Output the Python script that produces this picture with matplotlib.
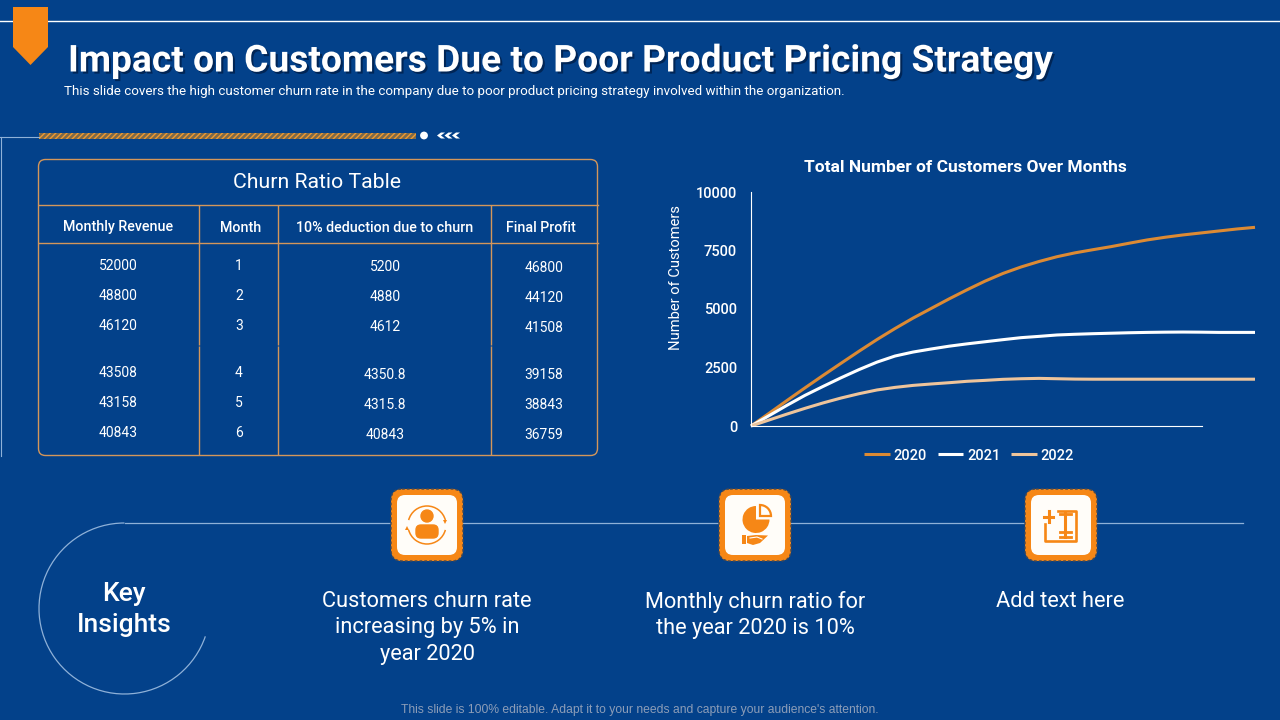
import matplotlib
matplotlib.use("Agg")
import matplotlib.pyplot as plt
import matplotlib.patheffects as pe
from matplotlib.patches import Arc, Circle, FancyBboxPatch, Polygon, Rectangle, Wedge

plt.rcParams['font.family'] = ['Roboto', 'DejaVu Sans']

BG = '#03418a'
ORANGE = '#f68716'
TAN = '#d4965a'
PALE = '#8fb1d8'

# table data
revenue = ['52000', '48800', '46120', '43508', '43158', '40843']
months = ['1', '2', '3', '4', '5', '6']
deduction = ['5200', '4880', '4612', '4350.8', '4315.8', '40843']
profit = ['46800', '44120', '41508', '39158', '38843', '36759']
headers = ['Monthly Revenue', 'Month', '10% deduction due to churn', 'Final Profit']

# chart data
steps = list(range(29))
cust_2020 = [0, 540, 1090, 1630, 2160, 2680, 3195, 3695, 4165, 4610, 5020, 5430, 5820, 6190, 6520,
             6795, 7030, 7235, 7400, 7535, 7665, 7810, 7950, 8065, 8165, 8250, 8335, 8420, 8490]
cust_2021 = [0, 440, 885, 1310, 1690, 2060, 2410, 2730, 2990, 3160, 3290, 3410, 3510, 3600, 3690,
             3775, 3830, 3890, 3920, 3945, 3965, 3985, 4000, 4010, 4015, 4010, 4000, 4000, 4000]
cust_2022 = [0, 255, 510, 755, 985, 1195, 1380, 1540, 1650, 1735, 1795, 1850, 1910, 1950, 1995,
             2020, 2035, 2020, 2005, 2000, 2000, 2000, 2000, 2000, 2000, 2000, 2000, 2000, 2000]
y_ticks = [0, 2500, 5000, 7500, 10000]

insights = ['Customers churn rate\nincreasing by 5% in\nyear 2020',
            'Monthly churn ratio for\nthe year 2020 is 10%',
            'Add text here']

fig = plt.figure(figsize=(12.8, 7.2), dpi=100, facecolor=BG)

# whole slide axes in pixels
bg = fig.add_axes([0, 0, 1, 1])
bg.set_xlim(0, 1280)
bg.set_ylim(720, 0)
bg.axis('off')

# header
bg.plot([0, 1280], [21, 21], color='white', lw=1)
bg.add_patch(Polygon([(13, 7), (48, 7), (48, 47), (30.5, 65), (13, 47)], facecolor=ORANGE, lw=0, zorder=3))
bg.text(68, 61.5, 'Impact on Customers Due to Poor Product Pricing Strategy', color='white', fontsize=26.75,
        fontweight='bold', va='center', ha='left',
        path_effects=[pe.withSimplePatchShadow(offset=(1.5, -1.5), shadow_rgbFace='#001a40', alpha=0.7)])
bg.text(64, 91.5, 'This slide covers the high customer churn rate in the company due to poor product pricing '
        'strategy involved within the organization.', color='white', fontsize=9.65, va='center', ha='left')

# divider above the table
bg.plot([0, 39], [136.5, 136.5], color=PALE, lw=0.8)
bg.plot([0.5, 0.5], [136.5, 456], color=PALE, lw=0.8)
plt.rcParams['hatch.linewidth'] = 1.0
bg.add_patch(Rectangle((39, 133), 377, 6, facecolor='#7d6a4a', edgecolor='#f09a30', hatch='//////', lw=0))
bg.add_patch(Circle((424, 135.5), 3.2, color='white'))
for x0 in (437, 444.5, 452):
    bg.add_patch(Polygon([(x0, 135.5), (x0 + 4, 132.5), (x0 + 8, 132.5), (x0 + 4, 135.5),
                          (x0 + 8, 138.5), (x0 + 4, 138.5)], facecolor='white', lw=0))

# table frame
bg.add_patch(FancyBboxPatch((38.5, 159.5), 559, 296, boxstyle='round,pad=0,rounding_size=7',
                            facecolor='none', edgecolor=TAN, lw=1))
for y in (204.5, 242.5):
    bg.plot([38.5, 597.5], [y, y], color=TAN, lw=1)
for x in (198.5, 277.5, 490.5):
    bg.plot([x, x], [205, 345], color=TAN, lw=1, solid_capstyle='butt')
    bg.plot([x, x], [346, 455], color=TAN, lw=1, solid_capstyle='butt')

bg.text(317, 183, 'Churn Ratio Table', color='white', fontsize=15.3, ha='center', va='center')
head_x = [118, 241, 385, 541]
for x, label in zip(head_x, headers):
    bg.text(x, 227.5, label, color='white', fontsize=10.3, fontweight='medium', ha='center', va='center')

rows_a = [266, 296, 326, 373, 403, 433]
rows_b = [267, 297, 327, 375, 405, 435]
rows_c = [268, 298, 328, 375, 405, 435]
for i in range(6):
    bg.text(118, rows_a[i], revenue[i], color='white', fontsize=10, ha='center', va='center')
    bg.text(239, rows_a[i], months[i], color='white', fontsize=10, ha='center', va='center')
    bg.text(385, rows_b[i], deduction[i], color='white', fontsize=10, ha='center', va='center')
    bg.text(544, rows_c[i], profit[i], color='white', fontsize=10, ha='center', va='center')

# key insights band
bg.plot([124.5, 1243], [523, 523], color=PALE, lw=0.9)
bg.add_patch(Arc((124.5, 608.5), 171, 171, theta1=19, theta2=270, color=PALE, lw=0.9))
bg.text(124, 593.5, 'Key', color='white', fontsize=19, fontweight='medium', ha='center', va='center')
bg.text(124, 625, 'Insights', color='white', fontsize=19, fontweight='medium', ha='center', va='center')


def icon_tile(cx, cy):
    bg.add_patch(FancyBboxPatch((cx - 36, cy - 36), 72, 72, boxstyle='round,pad=0,rounding_size=11',
                                facecolor=ORANGE, edgecolor='#4a4a50', lw=1, ls=(0, (2, 1.5)), zorder=3))
    bg.add_patch(FancyBboxPatch((cx - 30, cy - 30), 60, 60, boxstyle='round,pad=0,rounding_size=8',
                                facecolor='#fffdf9', edgecolor='none', zorder=4))


# person icon
icon_tile(427, 525)
bg.add_patch(Circle((427, 516), 6, color=ORANGE, zorder=5))
bg.add_patch(FancyBboxPatch((416, 525), 22, 13, boxstyle='round,pad=0,rounding_size=5', color=ORANGE, zorder=5))
bg.add_patch(Arc((427, 525), 38, 38, theta1=195, theta2=345, color=ORANGE, lw=1.1, zorder=5))
bg.add_patch(Arc((427, 525), 38, 38, theta1=15, theta2=165, color=ORANGE, lw=1.1, zorder=5))
bg.add_patch(Polygon([(443, 520), (447, 520), (445, 524)], facecolor=ORANGE, lw=0, zorder=5))
bg.add_patch(Polygon([(405, 530), (409, 530), (407, 526)], facecolor=ORANGE, lw=0, zorder=5))

# pie and hand icon
icon_tile(755, 525)
bg.add_patch(Wedge((756, 519.5), 13.5, 0, 270, facecolor=ORANGE, lw=0, zorder=5))
bg.add_patch(Wedge((760, 516), 11, 270, 360, facecolor='none', edgecolor=ORANGE, lw=1.6, zorder=5))
bg.add_patch(Rectangle((742, 535), 4, 9, facecolor=ORANGE, lw=0, zorder=5))
bg.add_patch(Polygon([(747, 536), (756, 535), (768, 535.5), (760, 543), (753, 545), (747, 543)],
                     facecolor=ORANGE, lw=0, zorder=5))
bg.plot([750, 757, 762], [538, 537, 539], color='white', lw=0.8, zorder=6)

# resize icon
icon_tile(1061, 525)
bg.plot([1045, 1045, 1075.5, 1075.5, 1058], [524, 541, 541, 510.5, 510.5], color=ORANGE, lw=1.9, zorder=5)
bg.plot([1044, 1053], [517, 517], color=ORANGE, lw=2.2, zorder=5)
bg.plot([1048.5, 1048.5], [511, 522], color=ORANGE, lw=2.2, zorder=5)
bg.plot([1064.5, 1064.5], [513, 537], color=ORANGE, lw=2.2, zorder=5)
bg.plot([1060, 1071], [514, 514], color=ORANGE, lw=2, zorder=5)
bg.plot([1060, 1071], [532, 532], color=ORANGE, lw=2, zorder=5)
bg.plot([1060, 1071], [537, 537], color=ORANGE, lw=2, zorder=5)

text_x = [427, 755, 1060]
for x, label in zip(text_x, insights):
    bg.text(x, 591, label, color='white', fontsize=15.7, ha='center', va='top', linespacing=1.33)

bg.text(640, 710.5, "This slide is 100% editable. Adapt it to your needs and capture your audience's attention.",
        color='#8c9db8', fontsize=8.7, family='Liberation Sans', ha='center', va='center')

# line chart
ax = fig.add_axes([751 / 1280, 1 - 426 / 720, 451 / 1280, 234 / 720])
ax.patch.set_alpha(0)
ax.plot(steps, cust_2020, color='#dc8a34', lw=2.2, label='2020', clip_on=False, solid_capstyle='butt')
ax.plot(steps, cust_2021, color='white', lw=2.2, label='2021', clip_on=False, solid_capstyle='butt')
ax.plot(steps, cust_2022, color='#eec49b', lw=2.2, label='2022', clip_on=False, solid_capstyle='butt')
ax.set_xlim(0, 451 / 18)
ax.set_ylim(0, 10000)
ax.set_xticks([])
ax.set_yticks(y_ticks)
ax.tick_params(axis='y', length=0, colors='white', labelsize=10.5, pad=10)
for lab in ax.get_yticklabels():
    lab.set_fontweight('medium')
ax.spines['top'].set_visible(False)
ax.spines['right'].set_visible(False)
ax.spines['left'].set_color('white')
ax.spines['bottom'].set_color('white')
ax.set_ylabel('Number of Customers', color='white', fontsize=10.6)
ax.yaxis.set_label_coords((683 - 751) / 451, 0.635)
bg.text(965, 167.5, 'Total Number of Customers Over Months', color='white', fontsize=12.5, fontweight='bold',
        ha='center', va='center')
leg = ax.legend(loc='center', bbox_to_anchor=((969 - 751) / 451, (426 - 455.5) / 234), ncol=3, frameon=False,
                prop={'size': 10.5, 'weight': 'medium'}, handlelength=1.75, handletextpad=0.25,
                columnspacing=0.75, labelcolor='white')

fig.savefig('out.png', dpi=100, facecolor=BG)
